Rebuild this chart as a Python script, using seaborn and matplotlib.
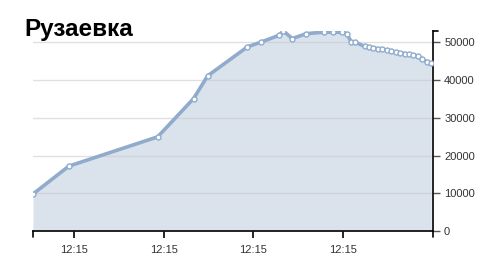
import matplotlib
matplotlib.use("Agg")
import matplotlib.pyplot as plt
import seaborn as sns
import pandas as pd

# time in seconds after 12:15:00
seconds = [5.44, 9.44, 19.33, 23.33, 24.89, 29.33, 30.89, 32.89, 33.33, 34.33,
           35.89, 37.89, 38.89, 39.89, 40.4, 40.89, 41.33, 42.44, 42.89, 43.33,
           43.89, 44.33, 44.89, 45.33, 45.89, 46.33, 46.89, 47.33, 47.78, 48.33,
           48.78, 49.33, 49.8]
values = [9800, 17200, 24950, 35100, 41100, 48800, 50100, 51900, 53000, 51000,
          52300, 52700, 52700, 52650, 52300, 50100, 50000, 48900, 48700, 48500,
          48300, 48100, 47900, 47700, 47400, 47200, 47000, 46800, 46600, 46400,
          45600, 44800, 44400]
x_ticks = [10, 20, 30, 40]
x_tick_labels = ["12:15", "12:15", "12:15", "12:15"]
y_ticks = [0, 10000, 20000, 30000, 40000, 50000]
title = "Рузаевка"

df = pd.DataFrame({"t": seconds, "v": values})

sns.set_style("white")
plt.rcParams["font.family"] = ["Liberation Sans", "DejaVu Sans"]

W, H = 490, 264
fig = plt.figure(figsize=(W / 100, H / 100), dpi=100)
ax = fig.add_axes([33 / W, (H - 231) / H, 400 / W, 200 / H])

line_c = "#90abcc"
fill_c = "#dae2ec"

ax.fill_between(df["t"], df["v"], 0, color=fill_c, lw=0, zorder=1)
for yt in y_ticks[1:]:
    ax.axhline(yt, color="#c8c8c8", alpha=0.55, lw=1, zorder=2)
sns.lineplot(data=df, x="t", y="v", ax=ax, color=line_c, lw=2.6, zorder=3,
             marker="o", markersize=3.6, markerfacecolor="white",
             markeredgecolor=line_c, markeredgewidth=1.0)

ax.set_xlim(5.44, 50)
ax.set_ylim(0, 53000)
ax.set_xticks(x_ticks)
ax.set_xticklabels(x_tick_labels)
ax.set_yticks(y_ticks)
ax.set_yticklabels([str(v) for v in y_ticks])
ax.yaxis.tick_right()
ax.set_xlabel("")
ax.set_ylabel("")
for s in ["top", "left"]:
    ax.spines[s].set_visible(False)
for s in ["bottom", "right"]:
    ax.spines[s].set_color("black")
    ax.spines[s].set_linewidth(1.2)
ax.tick_params(axis="x", length=5, width=1.2, color="black", pad=5,
               labelsize=8, labelcolor="#333333", direction="out", bottom=True)
ax.tick_params(axis="y", length=5, width=1, color="#555555", pad=3,
               labelsize=8, labelcolor="#333333", direction="out", right=True, left=False)

# outer ticks at the axis ends
ax.plot([5.44, 5.44], [0, -1500], color="black", lw=1.2, clip_on=False, zorder=5)
ax.plot([50, 50], [0, -1500], color="black", lw=1.2, clip_on=False, zorder=5)
ax.plot([50, 50.6], [53000, 53000], color="black", lw=1.2, clip_on=False, zorder=5)

fig.text(24 / W, (H - 36) / H, title, fontsize=17.5, fontweight="bold",
         color="black", ha="left", va="baseline")

fig.savefig("out.png", dpi=100)
